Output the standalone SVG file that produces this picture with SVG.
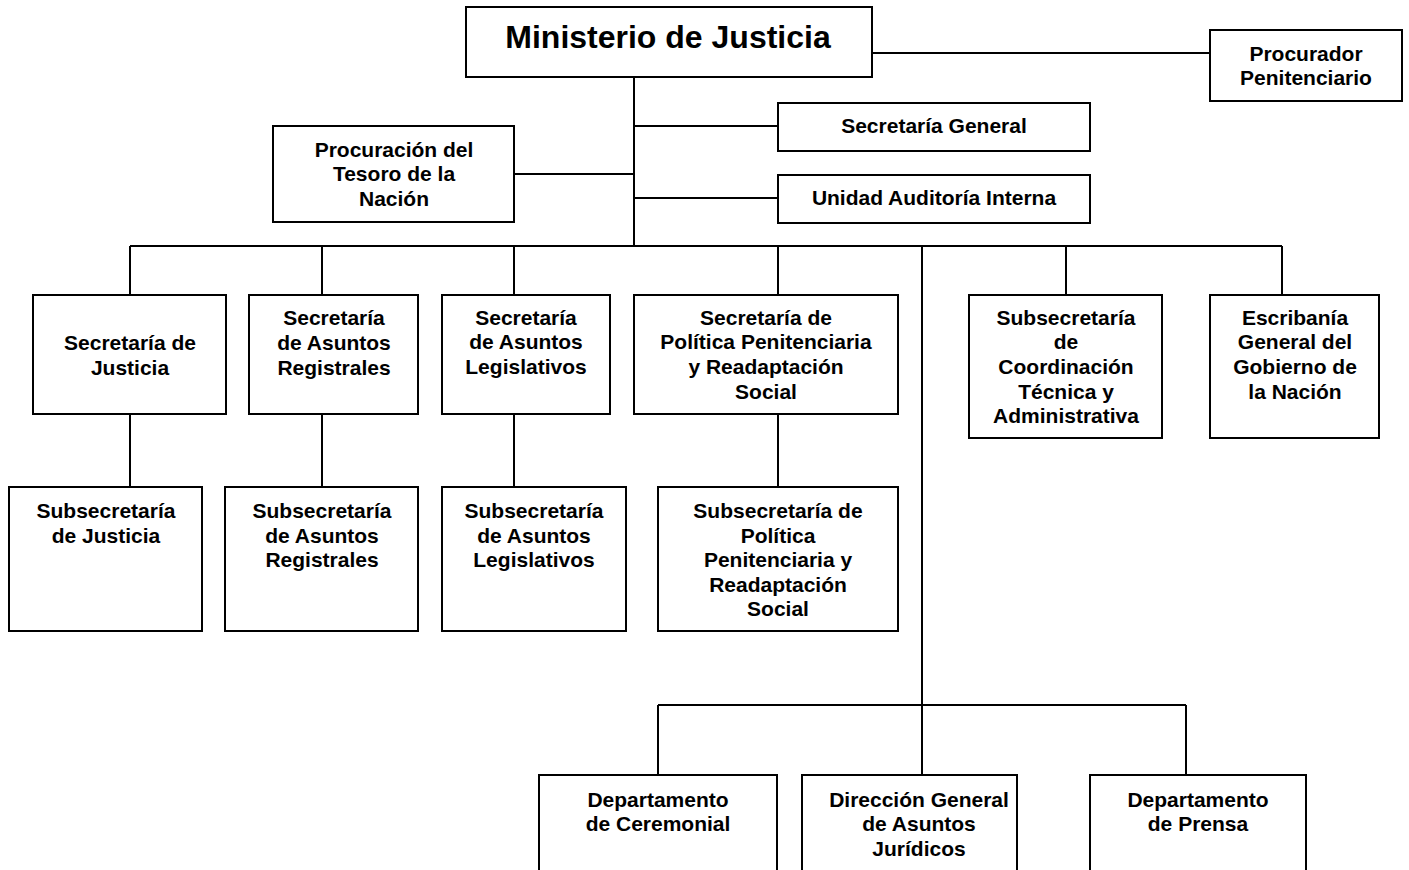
<svg xmlns="http://www.w3.org/2000/svg" width="1409" height="870" viewBox="0 0 1409 870">
<style>
.b{fill:#fff;stroke:#000;stroke-width:2}
.t{font-family:"Liberation Sans",Arial,sans-serif;font-weight:bold;font-size:21px;text-anchor:middle;fill:#000}
.c{fill:none;stroke:#000;stroke-width:2}
</style>
<rect width="1409" height="870" fill="#fff"/>
<g id="connectors">
<path class="c" d="M872 53H1210"/>
<path class="c" d="M634 77V246"/>
<path class="c" d="M634 126H778M634 198H778M514 174H634"/>
<path class="c" d="M130 246H1282"/>
<path class="c" d="M130 246V295M322 246V295M514 246V295M778 246V295M1066 246V295M1282 246V295"/>
<path class="c" d="M130 414V487M322 414V487M514 414V487M778 414V487"/>
<path class="c" d="M922 246V705M658 705H1186M658 705V775M922 705V775M1186 705V775"/>
</g>
<g id="ministerio"><rect class="b" x="466" y="7" width="406" height="70"/><text class="t" x="668" y="48" style="font-size:32px">Ministerio de Justicia</text></g>
<g id="procurador"><rect class="b" x="1210" y="30" width="192" height="71"/><text class="t" x="1306" y="61">Procurador</text><text class="t" x="1306" y="85">Penitenciario</text></g>
<g id="secgeneral"><rect class="b" x="778" y="103" width="312" height="48"/><text class="t" x="934" y="133">Secretaría General</text></g>
<g id="auditoria"><rect class="b" x="778" y="175" width="312" height="48"/><text class="t" x="934" y="205">Unidad Auditoría Interna</text></g>
<g id="tesoro"><rect class="b" x="273" y="126" width="241" height="96"/><text class="t" x="394" y="157">Procuración del</text><text class="t" x="394" y="181">Tesoro de la</text><text class="t" x="394" y="206">Nación</text></g>
<g id="secjusticia"><rect class="b" x="33" y="295" width="193" height="119"/><text class="t" x="130" y="350">Secretaría de</text><text class="t" x="130" y="375">Justicia</text></g>
<g id="secregistrales"><rect class="b" x="249" y="295" width="169" height="119"/><text class="t" x="334" y="325">Secretaría</text><text class="t" x="334" y="350">de Asuntos</text><text class="t" x="334" y="375">Registrales</text></g>
<g id="seclegislativos"><rect class="b" x="442" y="295" width="168" height="119"/><text class="t" x="526" y="325">Secretaría</text><text class="t" x="526" y="349">de Asuntos</text><text class="t" x="526" y="374">Legislativos</text></g>
<g id="secpolitica"><rect class="b" x="634" y="295" width="264" height="119"/><text class="t" x="766" y="325">Secretaría de</text><text class="t" x="766" y="349">Política Penitenciaria</text><text class="t" x="766" y="374">y Readaptación</text><text class="t" x="766" y="399">Social</text></g>
<g id="subcoordinacion"><rect class="b" x="969" y="295" width="193" height="143"/><text class="t" x="1066" y="325">Subsecretaría</text><text class="t" x="1066" y="349">de</text><text class="t" x="1066" y="374">Coordinación</text><text class="t" x="1066" y="399">Técnica y</text><text class="t" x="1066" y="423">Administrativa</text></g>
<g id="escribania"><rect class="b" x="1210" y="295" width="169" height="143"/><text class="t" x="1295" y="325">Escribanía</text><text class="t" x="1295" y="349">General del</text><text class="t" x="1295" y="374">Gobierno de</text><text class="t" x="1295" y="399">la Nación</text></g>
<g id="subjusticia"><rect class="b" x="9" y="487" width="193" height="144"/><text class="t" x="106" y="518">Subsecretaría</text><text class="t" x="106" y="543">de Justicia</text></g>
<g id="subregistrales"><rect class="b" x="225" y="487" width="193" height="144"/><text class="t" x="322" y="518">Subsecretaría</text><text class="t" x="322" y="543">de Asuntos</text><text class="t" x="322" y="567">Registrales</text></g>
<g id="sublegislativos"><rect class="b" x="442" y="487" width="184" height="144"/><text class="t" x="534" y="518">Subsecretaría</text><text class="t" x="534" y="543">de Asuntos</text><text class="t" x="534" y="567">Legislativos</text></g>
<g id="subpolitica"><rect class="b" x="658" y="487" width="240" height="144"/><text class="t" x="778" y="518">Subsecretaría de</text><text class="t" x="778" y="543">Política</text><text class="t" x="778" y="567">Penitenciaria y</text><text class="t" x="778" y="592">Readaptación</text><text class="t" x="778" y="616">Social</text></g>
<g id="ceremonial"><rect class="b" x="539" y="775" width="238" height="110"/><text class="t" x="658" y="807">Departamento</text><text class="t" x="658" y="831">de Ceremonial</text></g>
<g id="juridicos"><rect class="b" x="802" y="775" width="215" height="110"/><text class="t" x="919" y="807">Dirección General</text><text class="t" x="919" y="831">de Asuntos</text><text class="t" x="919" y="856">Jurídicos</text></g>
<g id="prensa"><rect class="b" x="1090" y="775" width="216" height="110"/><text class="t" x="1198" y="807">Departamento</text><text class="t" x="1198" y="831">de Prensa</text></g>
</svg>
